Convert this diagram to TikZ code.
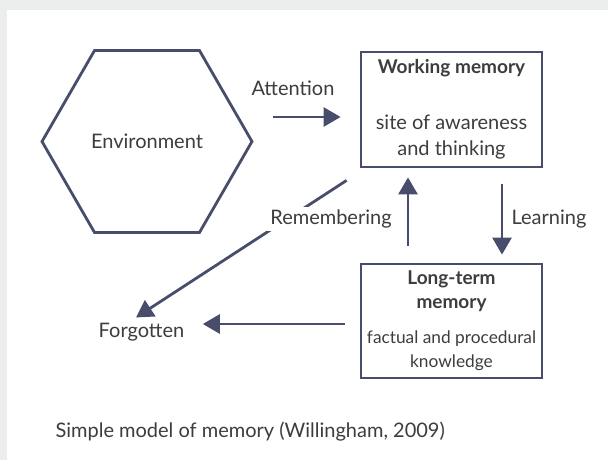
\documentclass[tikz,border=0pt]{standalone}
\usepackage{fontspec}
\setmainfont{Lato}
\usepackage{xcolor}
\usetikzlibrary{arrows.meta,shapes.geometric,calc}
\definecolor{lineblue}{HTML}{474D6B}
\definecolor{txtgray}{HTML}{3D3D3D}
\definecolor{bggray}{HTML}{ECEEEE}
\newcommand{\headtxt}[1]{{\fontsize{19}{24}\selectfont\bfseries #1}}
\newcommand{\smalltxt}[1]{{\fontsize{17.3}{23}\selectfont #1}}
\tikzset{
  arr/.style={line width=2.8pt,draw=lineblue,-{Triangle[length=17pt,width=19pt]}},
  box/.style={draw=lineblue,line width=2.8pt,minimum width=181pt,align=center,inner sep=0pt},
  lbl/.style={text=txtgray,font=\fontsize{20}{26}\selectfont},
}
\begin{document}
\begin{tikzpicture}[x=1pt,y=-1pt]
\fill[bggray] (0,0) rectangle (608,460);
\fill[white] (7,10) rectangle (608,460);
\useasboundingbox (0,0) rectangle (608,460);
\node[regular polygon,regular polygon sides=6,minimum size=210pt,inner sep=0pt,draw=lineblue,line width=2.8pt,lbl] (env) at (147,141.5) {Environment};
\node[box,lbl,minimum height=115pt] (wm) at (451.5,109.5) {\headtxt{Working memory}\\[30pt]site of awareness\\and thinking};
\node[box,lbl,font=\fontsize{19}{24}\selectfont,minimum height=114pt] (ltm) at (451.5,321) {\headtxt{Long-term}\\\headtxt{memory}\\[11pt]\smalltxt{factual and procedural}\\\smalltxt{knowledge}};
\node[lbl] (att) at (293,88) {Attention};
\node[lbl] (forgot) at (141.5,332) {Forgotten};
\node[lbl] (learn) at (549,219) {Learning};
\node[lbl,anchor=west] (cap) at (52,432) {Simple model of memory (Willingham, 2009)};
\draw[arr] ([xshift=-87pt,yshift=-7.5pt]wm.west) -- ([xshift=-19pt,yshift=-7.5pt]wm.west);
\draw[arr] ([xshift=50.5pt,yshift=-16pt]wm.south) -- ([xshift=50.5pt,yshift=8pt]ltm.north);
\draw[arr] ([xshift=-43.5pt,yshift=17pt]ltm.north) -- ([xshift=-43.5pt,yshift=-9pt]wm.south);
\draw[arr,shorten <=15pt,shorten >=15pt] ([yshift=-3pt]ltm.west) -- ([yshift=-3pt]ltm.west -| forgot.east);
\draw[arr] ([shift={(-13pt,-12pt)}]wm.south west) -- ([xshift=-5.5pt,yshift=2pt]forgot.north);
\node[lbl,fill=white,inner sep=3pt] (rem) at (331,219) {Remembering};
\end{tikzpicture}
\end{document}
